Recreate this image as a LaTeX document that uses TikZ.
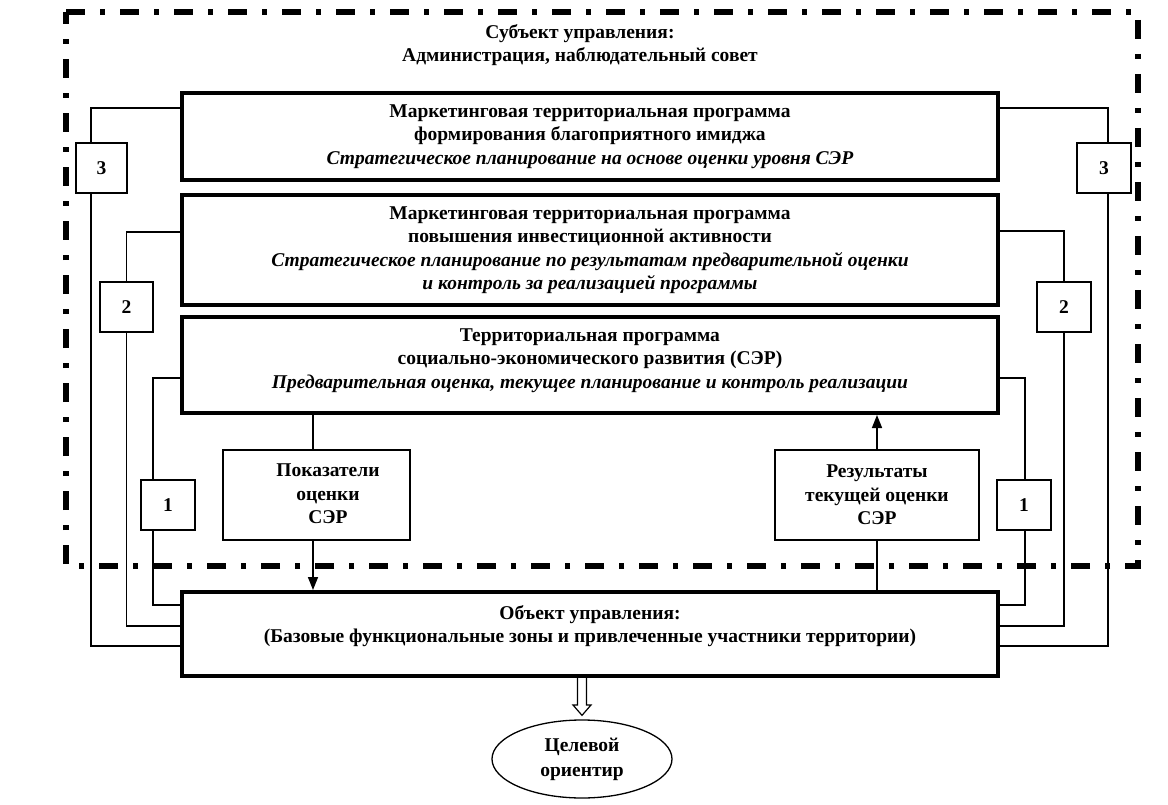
\documentclass[tikz,border=0pt]{standalone}
\usepackage{fontspec}
\setmainfont{Liberation Serif}
\usetikzlibrary{arrows.meta,calc,shapes.geometric}
\begin{document}
\begin{tikzpicture}[x=1pt,y=-1pt,
  every node/.style={font=\fontsize{19.5}{23.5}\selectfont\bfseries},
  big/.style={draw, line width=4pt, minimum width=816pt, align=center, inner sep=0pt},
  num/.style={draw, line width=1.2pt, minimum height=50pt, inner sep=0pt},
  mid/.style={draw, line width=1.5pt, minimum height=90pt, align=center, inner sep=0pt},
  conn/.style={line width=1.3pt},
  arr/.style={line width=1.5pt, -{Triangle[length=13pt,width=10pt]}},
  border/.style={line width=5.5pt, dash pattern=on 19pt off 15pt on 5pt off 15pt}
]
\useasboundingbox (0,0) rectangle (1168,805);
\draw[border] (66,12) -- (1138,12) -- (1138,566) -- (66,566) -- cycle;

\node (H) at (580,45) [align=center] {Субъект управления:\\Администрация, наблюдательный совет};

\node[big, minimum height=87pt] (A) at (590,136.5) {Маркетинговая территориальная программа\\формирования благоприятного имиджа\\\itshape Стратегическое планирование на основе оценки уровня СЭР};
\node[big, minimum height=110pt] (B) at (590,250) {Маркетинговая территориальная программа\\повышения инвестиционной активности\\\itshape Стратегическое планирование по результатам предварительной оценки\\\itshape и контроль за реализацией программы};
\node[big, minimum height=96pt] (C) at (590,365) {};
\node (Ct) at (590,360.5) [align=center] {Территориальная программа\\социально-экономического развития (СЭР)\\\itshape Предварительная оценка, текущее планирование и контроль реализации};
\node[big, minimum height=84pt] (O) at (590,634) {};
\node (Ot) at (590,626) [align=center] {Объект управления:\\(Базовые функциональные зоны и привлеченные участники территории)};

\node[mid, minimum width=187pt] (P) at (316.5,495) {};
\node (Pt) at (328,494) [align=center] {Показатели\\оценки\\СЭР};
\node[mid, minimum width=204pt] (R) at (877,495) {Результаты\\текущей оценки\\СЭР};

\node[num, minimum width=51pt] (L3) at (101.5,168) {3};
\node[num, minimum width=54pt] (R3) at (1104,168) {3};
\node[num, minimum width=53pt] (L2) at (126.5,307) {2};
\node[num, minimum width=54pt] (R2) at (1064,307) {2};
\node[num, minimum width=54pt] (L1) at (168,505) {1};
\node[num, minimum width=54pt] (R1) at (1024,505) {1};

\node[draw, ellipse, line width=1.3pt, minimum width=180pt, minimum height=78pt, align=center, font=\fontsize{19.5}{25}\selectfont\bfseries] (E) at (582,759) {Целевой\\ориентир};

% left feedback lines
\draw[conn] ($(A.north west)+(0,17)$) -| ([xshift=-10.5pt]L3.north);
\draw[conn] ([xshift=-10.5pt]L3.south) |- ($(O.north west)+(0,56)$);
\draw[conn] ($(B.north west)+(0,39)$) -| (L2.north);
\draw[conn] (L2.south) |- ($(O.north west)+(0,36)$);
\draw[conn] ($(C.north west)+(0,63)$) -| ([xshift=-15pt]L1.north);
\draw[conn] ([xshift=-15pt]L1.south) |- ($(O.north west)+(0,15)$);
% right feedback lines
\draw[conn] ($(A.north east)+(0,17)$) -| ([xshift=4pt]R3.north);
\draw[conn] ([xshift=4pt]R3.south) |- ($(O.north east)+(0,56)$);
\draw[conn] ($(B.north east)+(0,38)$) -| (R2.north);
\draw[conn] (R2.south) |- ($(O.north east)+(0,36)$);
\draw[conn] ($(C.north east)+(0,63)$) -| ([xshift=1pt]R1.north);
\draw[conn] ([xshift=1pt]R1.south) |- ($(O.north east)+(0,15)$);

% middle
\draw[conn] (C.south -| 313,0) -- (P.north -| 313,0);
\draw[arr] (P.south -| 313,0) -- (O.north -| 313,0);
\draw[conn] (O.north -| R.south) -- (R.south);
\draw[arr] (R.north) -- (C.south -| R.north);

% open block arrow
\coordinate (b) at (O.south -| E.north);
\draw[line width=1.2pt, fill=white, line join=miter]
  ($(b)+(-4.5,0)$) -- ($(b)+(-4.5,27)$) -- ($(b)+(-9,27)$) -- ($(E.north)+(0,-4)$)
  -- ($(b)+(9,27)$) -- ($(b)+(4.5,27)$) -- ($(b)+(4.5,0)$);
\end{tikzpicture}
\end{document}
